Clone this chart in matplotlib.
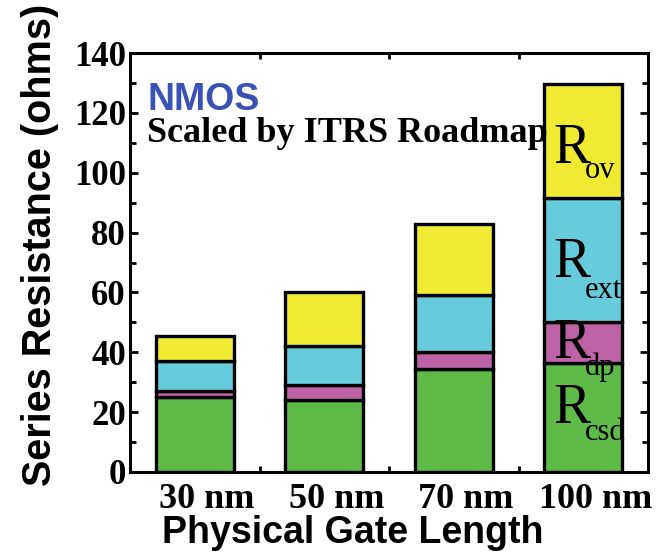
import matplotlib.pyplot as plt
import matplotlib.transforms as mtransforms
from matplotlib.ticker import MultipleLocator, FixedLocator

# values (ohms)
gate_lengths = ['30 nm', '50 nm', '70 nm', '100 nm']
r_csd = [25, 24, 34.5, 36.5]
r_dp = [2, 5, 5.5, 13.5]
r_ext = [10, 13, 19, 41.5]
r_ov = [8.5, 18, 24, 38]

colors = {'csd': '#5ebb48', 'dp': '#bd62a6', 'ext': '#68cbdb', 'ov': '#f0ea32'}

serif = 'Liberation Serif'
sans = 'Liberation Sans'

fig = plt.figure(figsize=(6.65, 5.54), dpi=100)
ax = fig.add_axes([130 / 665, 1 - 472 / 554, 518 / 665, 419 / 554])

x = list(range(len(gate_lengths)))
bottom = [0.0] * len(x)
for key, vals in [('csd', r_csd), ('dp', r_dp), ('ext', r_ext), ('ov', r_ov)]:
    ax.bar(x, vals, width=0.6, bottom=bottom, color=colors[key],
           edgecolor='black', linewidth=2.4, zorder=2)
    bottom = [b + v for b, v in zip(bottom, vals)]

ax.set_xlim(-0.5, 3.5)
ax.set_ylim(0, 140)

for sp in ax.spines.values():
    sp.set_linewidth(2.2)

ax.yaxis.set_major_locator(MultipleLocator(20))
ax.yaxis.set_minor_locator(MultipleLocator(10))
ax.xaxis.set_major_locator(FixedLocator(x))
ax.xaxis.set_minor_locator(FixedLocator([0.5, 1.5, 2.5]))
ax.tick_params(axis='y', which='both', direction='in', left=True, right=True, width=2)
ax.tick_params(axis='y', which='major', length=6, pad=3)
ax.tick_params(axis='y', which='minor', length=4)
ax.tick_params(axis='x', which='major', length=0, pad=8)
ax.tick_params(axis='x', which='minor', direction='in', top=True, bottom=True,
               length=4, width=2)

ax.set_xticklabels(gate_lengths, fontfamily=serif, fontweight='bold', fontsize=26)
for lab in ax.get_yticklabels():
    lab.set_fontfamily(serif)
    lab.set_fontweight('bold')
    lab.set_fontsize(25)

# labels sit a little right of the bar centres in the original
shift = mtransforms.ScaledTranslation(12 / 100, 0, fig.dpi_scale_trans)
for lab in ax.get_xticklabels():
    lab.set_transform(lab.get_transform() + shift)

fig.text(353 / 665, 1 - 543 / 554, 'Physical Gate Length', ha='center', va='baseline',
         fontfamily=sans, fontweight='bold', fontsize=27)
fig.text(40 / 665, 1 - 245 / 554, 'Series Resistance (ohms)', ha='center', va='center',
         rotation=90, fontfamily=sans, fontweight='bold', fontsize=28.5)

ax.text(0.033, 0.864, 'NMOS', transform=ax.transAxes, ha='left', va='baseline',
        fontfamily=sans, fontweight='bold', fontsize=27, color='#3a52b4', zorder=5)
ax.text(0.033, 0.7876, 'Scaled by ITRS Roadmap', transform=ax.transAxes, ha='left',
        va='baseline', fontfamily=serif, fontweight='bold', fontsize=26, zorder=5)

# R labels next to / inside the 100 nm bar
r_labels = [('ov', 103.3, 98.3), ('ext', 65, 58.3), ('dp', 38, 32.3), ('csd', 16.3, 10.7)]
for sub, y_r, y_sub in r_labels:
    ax.text(2.77, y_r, 'R', ha='left', va='baseline', fontfamily=serif,
            fontsize=40, zorder=5)
    ax.text(3.01, y_sub, sub, ha='left', va='baseline', fontfamily=serif,
            fontsize=22, zorder=5)

fig.savefig('out.png', dpi=100)
